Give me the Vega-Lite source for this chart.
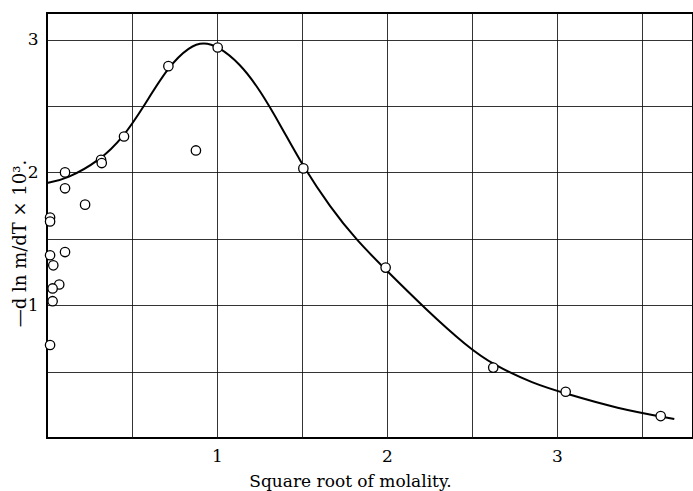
{
  "$schema": "https://vega.github.io/schema/vega-lite/v6.json",
  "width": 646,
  "height": 425,
  "autosize": {"type": "none"},
  "padding": {"left": 47, "top": 13, "right": 0, "bottom": 53},
  "background": "white",
  "config": {
    "view": {"stroke": "black", "strokeWidth": 2},
    "font": "DejaVu Serif",
    "axis": {
      "domain": false,
      "ticks": false,
      "grid": true,
      "gridColor": "#111111",
      "gridWidth": 1,
      "gridOpacity": 0.85,
      "labelFont": "DejaVu Serif",
      "labelFontSize": 17,
      "labelColor": "black",
      "titleFont": "DejaVu Serif",
      "titleFontSize": 17,
      "titleFontWeight": "normal",
      "titleColor": "black"
    }
  },
  "datasets": {
    "points": [
      {"x": 0.018, "y": 1.66}, {"x": 0.018, "y": 1.63},
      {"x": 0.106, "y": 2.0}, {"x": 0.106, "y": 1.88},
      {"x": 0.224, "y": 1.757}, {"x": 0.318, "y": 2.095},
      {"x": 0.322, "y": 2.07}, {"x": 0.453, "y": 2.27},
      {"x": 0.714, "y": 2.80}, {"x": 0.876, "y": 2.165},
      {"x": 1.004, "y": 2.94}, {"x": 1.508, "y": 2.03},
      {"x": 1.992, "y": 1.283}, {"x": 2.625, "y": 0.53},
      {"x": 3.051, "y": 0.348}, {"x": 3.61, "y": 0.165},
      {"x": 0.106, "y": 1.40}, {"x": 0.018, "y": 1.376},
      {"x": 0.037, "y": 1.30}, {"x": 0.072, "y": 1.156},
      {"x": 0.033, "y": 1.126}, {"x": 0.033, "y": 1.03},
      {"x": 0.018, "y": 0.70}
    ],
    "curve": [
      {"x": 0.0, "y": 1.92}, {"x": 0.116, "y": 1.95}, {"x": 0.312, "y": 2.09},
      {"x": 0.449, "y": 2.265}, {"x": 0.566, "y": 2.49}, {"x": 0.714, "y": 2.80},
      {"x": 0.841, "y": 2.95}, {"x": 0.92, "y": 2.98}, {"x": 1.006, "y": 2.95},
      {"x": 1.135, "y": 2.82}, {"x": 1.253, "y": 2.62}, {"x": 1.38, "y": 2.34},
      {"x": 1.508, "y": 2.04}, {"x": 1.665, "y": 1.74},
      {"x": 1.82, "y": 1.49}, {"x": 1.99, "y": 1.27}, {"x": 2.234, "y": 0.962},
      {"x": 2.47, "y": 0.69}, {"x": 2.626, "y": 0.55}, {"x": 2.86, "y": 0.41},
      {"x": 3.05, "y": 0.335}, {"x": 3.35, "y": 0.223}, {"x": 3.69, "y": 0.143}
    ]
  },
  "layer": [
    {
      "data": {"name": "curve"},
      "mark": {"type": "line", "color": "black", "strokeWidth": 2, "interpolate": "basis"},
      "encoding": {
        "x": {
          "field": "x", "type": "quantitative",
          "scale": {"domain": [0, 3.8], "nice": false, "zero": false},
          "axis": {
            "values": [0.5, 1, 1.5, 2, 2.5, 3, 3.5],
            "labelExpr": "datum.value % 1 == 0 ? format(datum.value, 'd') : ''",
            "labelPadding": 10,
            "title": "Square root of molality.",
            "titleX": 303,
            "titleY": 43,
            "titleBaseline": "middle"
          }
        },
        "y": {
          "field": "y", "type": "quantitative",
          "scale": {"domain": [0, 3.2], "nice": false, "zero": false},
          "axis": {
            "values": [0.5, 1, 1.5, 2, 2.5, 3],
            "labelExpr": "datum.value % 1 == 0 ? format(datum.value, 'd') : ''",
            "labelPadding": 9,
            "title": "—d ln m/dT × 10³.",
            "titleFontSize": 18,
            "titleX": -27,
            "titleY": 230,
            "titleBaseline": "middle"
          }
        }
      }
    },
    {
      "data": {"name": "points"},
      "mark": {"type": "point", "shape": "circle", "filled": false, "fill": "white", "fillOpacity": 1, "stroke": "black", "strokeWidth": 1.3, "size": 88, "opacity": 1},
      "encoding": {
        "x": {"field": "x", "type": "quantitative"},
        "y": {"field": "y", "type": "quantitative"}
      }
    }
  ]
}
